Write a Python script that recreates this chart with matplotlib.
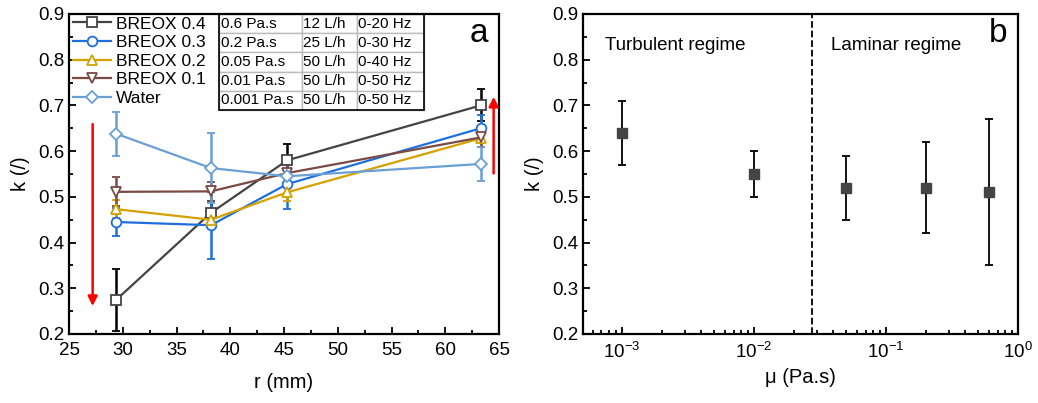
import numpy as np
import matplotlib.pyplot as plt
from matplotlib.lines import Line2D
from matplotlib.ticker import MultipleLocator, LogLocator, NullFormatter

plt.rcParams['font.family'] = ['Liberation Sans', 'DejaVu Sans']

# panel a data
r = [29.4, 38.2, 45.3, 63.3]
names = ["BREOX 0.4", "BREOX 0.3", "BREOX 0.2", "BREOX 0.1", "Water"]
k_04 = [0.275, 0.465, 0.580, 0.700]
e_04 = [0.068, 0.025, 0.035, 0.035]
k_03 = [0.445, 0.438, 0.528, 0.650]
e_03 = [0.030, 0.073, 0.055, 0.030]
k_02 = [0.473, 0.450, 0.510, 0.628]
e_02 = [0.020, 0.020, 0.020, 0.020]
k_01 = [0.511, 0.512, 0.552, 0.630]
e_01 = [0.032, 0.020, 0.020, 0.020]
k_w = [0.638, 0.563, 0.545, 0.572]
e_w = [0.048, 0.077, 0.015, 0.037]

table_rows = [["0.6 Pa.s", "12 L/h", "0-20 Hz"],
              ["0.2 Pa.s", "25 L/h", "0-30 Hz"],
              ["0.05 Pa.s", "50 L/h", "0-40 Hz"],
              ["0.01 Pa.s", "50 L/h", "0-50 Hz"],
              ["0.001 Pa.s", "50 L/h", "0-50 Hz"]]

# panel b data
mu = [0.001, 0.01, 0.05, 0.2, 0.6]
k_mu = [0.64, 0.55, 0.52, 0.52, 0.51]
k_lo = [0.57, 0.50, 0.45, 0.42, 0.35]
k_hi = [0.71, 0.60, 0.59, 0.62, 0.67]

fig = plt.figure(figsize=(10.38, 4.03), dpi=100)
ax1 = fig.add_axes([69/1038, 69/403, 430/1038, 320/403])
ax2 = fig.add_axes([583/1038, 69/403, 435/1038, 320/403])

series = [(k_04, e_04, "#444444", "black", "s", 6.5),
          (k_03, e_03, "#1f6fdc", "#1f6fdc", "o", 7),
          (k_02, e_02, "#d4a100", "#d4a100", "^", 7.5),
          (k_01, e_01, "#7a4a45", "#7a4a45", "v", 7.5),
          (k_w, e_w, "#6a9fd6", "#6a9fd6", "D", 6.5)]
handles = []
for (k, e, c, ec, m, ms), name in zip(series, names):
    ax1.errorbar(r, k, yerr=e, color=c, ecolor=ec, marker=m, ms=ms,
                 mfc="white", mec=c, mew=1.3, lw=1.6, elinewidth=1.8, capsize=3,
                 capthick=1.8)
    handles.append(Line2D([], [], color=c, marker=m, ms=ms, mfc="white", mec=c,
                          mew=1.3, lw=1.6, label=name))

ax1.annotate("", xy=(27.2, 0.255), xytext=(27.2, 0.665),
             arrowprops=dict(arrowstyle="-|>", color="red", lw=1.8, mutation_scale=14))
ax1.annotate("", xy=(64.5, 0.725), xytext=(64.5, 0.545),
             arrowprops=dict(arrowstyle="-|>", color="red", lw=1.8, mutation_scale=14))

ax1.set_xlim(25, 65)
ax1.set_ylim(0.2, 0.9)
ax1.xaxis.set_major_locator(MultipleLocator(5))
ax1.xaxis.set_minor_locator(MultipleLocator(2.5))
ax1.yaxis.set_major_locator(MultipleLocator(0.1))
ax1.yaxis.set_minor_locator(MultipleLocator(0.05))
ax1.set_xlabel("r (mm)", fontsize=14.5, labelpad=10)
ax1.set_ylabel("k (/)", fontsize=14.5, labelpad=6)
ax1.text(0.975, 0.94, "a", transform=ax1.transAxes, fontsize=24, ha="right", va="center")

ax1.legend(handles=handles, loc="upper left", bbox_to_anchor=(-0.015, 1.025), frameon=False,
           fontsize=12.5, handlelength=2.2, handletextpad=0.3, labelspacing=0.2,
           borderaxespad=0.2)

tab = ax1.table(cellText=table_rows, cellLoc="left", colWidths=[0.193, 0.128, 0.156],
                bbox=[0.349, 0.7, 0.477, 0.3])
tab.auto_set_font_size(False)
tab.set_fontsize(11)
for (i, j), cell in tab.get_celld().items():
    cell.set_edgecolor("#bbbbbb")
    cell.set_linewidth(1)
    cell.PAD = 0.02
# outer border of the table
ax1.add_patch(plt.Rectangle((0.349, 0.7), 0.477, 0.3, transform=ax1.transAxes,
                            fill=False, ec="black", lw=1.2, zorder=5))

ax2.errorbar(mu, k_mu, yerr=[np.array(k_mu) - np.array(k_lo), np.array(k_hi) - np.array(k_mu)],
             fmt="s", color="#444444", ms=7, ecolor="black", elinewidth=1.3,
             capsize=3, capthick=1.3)
ax2.axvline(0.0275, color="black", ls="--", lw=1.3)
ax2.set_xscale("log")
ax2.set_xlim(5.07e-4, 1)
ax2.set_ylim(0.2, 0.9)
ax2.xaxis.set_major_locator(LogLocator(base=10, numticks=10))
ax2.xaxis.set_minor_locator(LogLocator(base=10, subs=np.arange(2, 10), numticks=10))
ax2.xaxis.set_minor_formatter(NullFormatter())
ax2.yaxis.set_major_locator(MultipleLocator(0.1))
ax2.yaxis.set_minor_locator(MultipleLocator(0.05))
ax2.set_xlabel("\u03bc (Pa.s)", fontsize=14.5, labelpad=4)
ax2.set_ylabel("k (/)", fontsize=14.5, labelpad=6)
ax2.text(0.05, 0.9, "Turbulent regime", transform=ax2.transAxes, fontsize=13.5, va="center")
ax2.text(0.57, 0.9, "Laminar regime", transform=ax2.transAxes, fontsize=13.5, va="center")
ax2.text(0.975, 0.94, "b", transform=ax2.transAxes, fontsize=24, ha="right", va="center")

for ax in (ax1, ax2):
    for sp in ax.spines.values():
        sp.set_linewidth(1.6)
    ax.tick_params(which="both", direction="in", labelsize=13.5, width=1.3)
    ax.tick_params(which="major", length=5)
    ax.tick_params(which="minor", length=3)
    ax.tick_params(axis="x", pad=6)

fig.savefig("out.png", dpi=100)
